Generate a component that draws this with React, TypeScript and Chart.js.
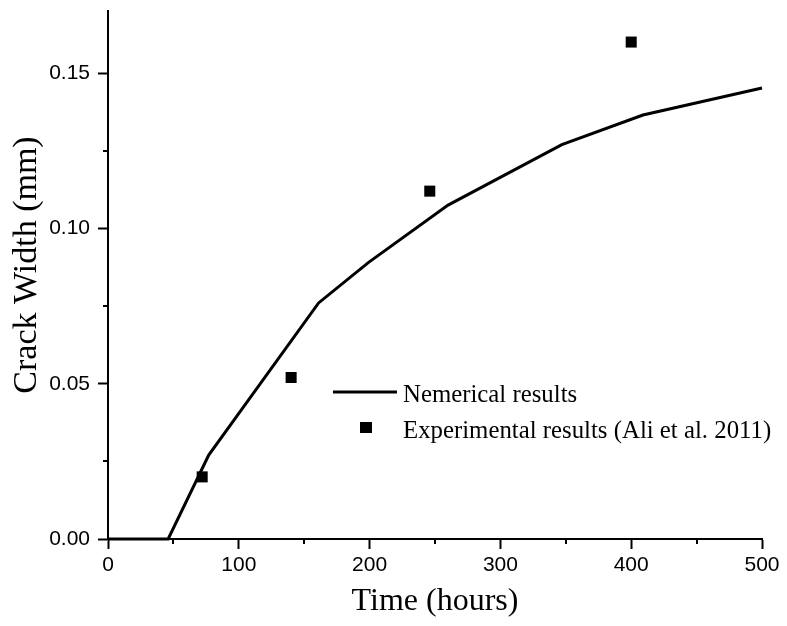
import React, { useEffect, useRef } from "react";
import { Chart, registerables } from "chart.js";

Chart.register(...registerables);

// Numerical results (line)
const numX = [0, 46, 77, 161, 199, 260, 347, 409, 500];
const numY = [0, 0, 0.027, 0.076, 0.089, 0.1075, 0.127, 0.1365, 0.1452];
// Experimental results (squares)
const expX = [72, 140, 246, 400];
const expY = [0.02, 0.052, 0.112, 0.16];

const xTicks = [0, 100, 200, 300, 400, 500];
const yTicks = [0, 0.05, 0.1, 0.15];
const xMinor = [50, 150, 250, 350, 450];
const yMinor = [0.025, 0.075, 0.125];

const seriesNames = ["Nemerical results", "Experimental results (Ali et al. 2011)"];
const xTitle = "Time (hours)";
const yTitle = "Crack Width (mm)";

const W = 787;
const H = 626;
const SERIF = "'Liberation Serif', 'Times New Roman', serif";

const minorTicksPlugin = {
  id: "minorTicks",
  afterDraw(chart: any) {
    const { ctx, scales, chartArea } = chart;
    const xs = scales.x;
    const ys = scales.y;
    ctx.save();
    ctx.strokeStyle = "#000";
    ctx.lineWidth = 2;
    ctx.beginPath();
    xMinor.forEach((v) => {
      const px = Math.round(xs.getPixelForValue(v));
      ctx.moveTo(px, chartArea.bottom);
      ctx.lineTo(px, chartArea.bottom + 5);
    });
    yMinor.forEach((v) => {
      const py = Math.round(ys.getPixelForValue(v));
      ctx.moveTo(chartArea.left, py);
      ctx.lineTo(chartArea.left - 5, py);
    });
    ctx.stroke();
    ctx.restore();
  },
};

const textPlugin = {
  id: "customText",
  afterDraw(chart: any) {
    const { ctx } = chart;
    ctx.save();
    // legend
    ctx.strokeStyle = "#000";
    ctx.fillStyle = "#000";
    ctx.lineWidth = 3;
    ctx.beginPath();
    ctx.moveTo(333, 392);
    ctx.lineTo(397, 392);
    ctx.stroke();
    ctx.fillRect(360, 422, 12, 11);
    ctx.font = "24.8px " + SERIF;
    ctx.textBaseline = "alphabetic";
    ctx.textAlign = "left";
    ctx.fillText(seriesNames[0], 403, 402);
    ctx.fillText(seriesNames[1], 403, 438);
    // y axis title
    ctx.translate(27, 265);
    ctx.rotate(-Math.PI / 2);
    ctx.font = "34px " + SERIF;
    ctx.textAlign = "center";
    ctx.textBaseline = "middle";
    ctx.fillText(yTitle, 0, 0);
    ctx.restore();
  },
};

export default function App() {
  const ref = useRef<HTMLCanvasElement | null>(null);

  useEffect(() => {
    if (!ref.current) return;
    const tickFont = { family: "'Liberation Sans', Arial, Helvetica, sans-serif", size: 21 };
    const titleFont = { family: SERIF, size: 32 };
    const chart = new Chart(ref.current, {
      type: "scatter",
      data: {
        datasets: [
          {
            label: seriesNames[0],
            data: numX.map((x, i) => ({ x, y: numY[i] })),
            showLine: true,
            borderColor: "#000",
            backgroundColor: "#000",
            borderWidth: 3,
            pointRadius: 0,
            tension: 0,
            clip: false as any,
          },
          {
            label: seriesNames[1],
            data: expX.map((x, i) => ({ x, y: expY[i] })),
            showLine: false,
            pointStyle: "rect",
            pointRadius: 7.8,
            pointBorderWidth: 0,
            backgroundColor: "#000",
            borderColor: "#000",
          },
        ],
      },
      options: {
        animation: false,
        responsive: false,
        maintainAspectRatio: false,
        layout: { padding: { left: 0, right: 25, top: 11, bottom: 0 } },
        plugins: {
          legend: { display: false },
          tooltip: { enabled: false },
        },
        scales: {
          x: {
            type: "linear",
            min: 0,
            max: 500,
            afterBuildTicks: (s: any) => {
              s.ticks = xTicks.map((v) => ({ value: v }));
            },
            afterFit: (s: any) => {
              s.height = 87;
              s.paddingLeft = 0;
              s.paddingRight = 0;
            },
            grid: {
              display: true,
              drawOnChartArea: false,
              drawTicks: true,
              tickLength: 10,
              tickWidth: 2,
              color: "#000",
            },
            border: { display: true, color: "#000", width: 2 },
            ticks: {
              color: "#000",
              font: tickFont,
              padding: 4,
              maxRotation: 0,
              callback: (v: any) => String(v),
            },
            title: {
              display: true,
              text: xTitle,
              color: "#000",
              font: titleFont,
              padding: { top: 0, bottom: 5 },
            },
          },
          y: {
            type: "linear",
            min: 0,
            max: 0.17,
            afterBuildTicks: (s: any) => {
              s.ticks = yTicks.map((v) => ({ value: v }));
            },
            afterFit: (s: any) => {
              s.width = 108;
              s.paddingTop = 0;
              s.paddingBottom = 0;
            },
            grid: {
              display: true,
              drawOnChartArea: false,
              drawTicks: true,
              tickLength: 10,
              tickWidth: 2,
              color: "#000",
            },
            border: { display: true, color: "#000", width: 2 },
            ticks: {
              color: "#000",
              font: tickFont,
              padding: 8,
              callback: (v: any) => Number(v).toFixed(2),
            },
            title: { display: false, text: yTitle },
          },
        },
      },
      plugins: [minorTicksPlugin, textPlugin],
    });
    return () => chart.destroy();
  }, []);

  return (
    <div style={{ position: "fixed", left: 0, top: 0, width: W, height: H, background: "#fff" }}>
      <canvas ref={ref} width={W} height={H} style={{ width: W, height: H, display: "block" }} />
    </div>
  );
}
